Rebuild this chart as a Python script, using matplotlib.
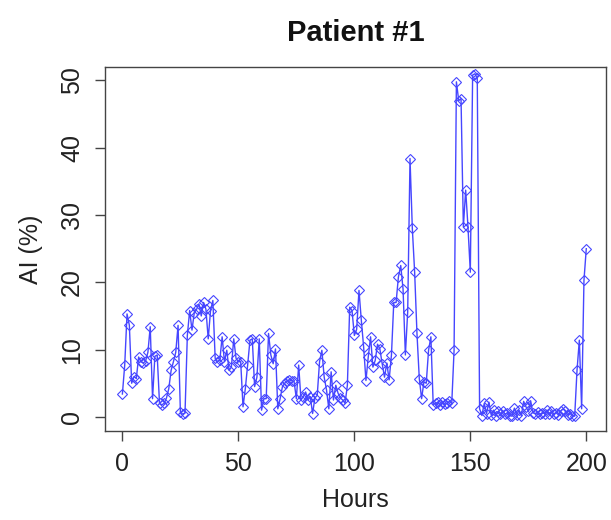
import matplotlib
matplotlib.use("Agg")
import matplotlib.pyplot as plt

plt.rcParams['font.family'] = ['Liberation Sans', 'DejaVu Sans']

hours = list(range(0, 201))
ai = [
    3.4, 7.7, 15.3, 13.6, 5.0, 6.0, 5.7, 8.9, 8.2, 8.0,      # 0-9
    8.3, 9.6, 13.4, 2.7, 9.0, 9.2, 2.0, 1.8, 2.0, 2.8,       # 10-19
    4.2, 6.9, 8.2, 9.6, 13.6, 0.7, 0.4, 0.6, 12.1, 15.8,     # 20-29
    12.9, 15.5, 16.0, 16.8, 15.0, 17.0, 16.0, 11.6, 15.8, 17.3,  # 30-39
    8.7, 8.2, 8.4, 11.9, 8.2, 9.9, 6.9, 7.4, 11.6, 8.7,      # 40-49
    8.2, 8.2, 1.5, 4.2, 7.7, 11.4, 11.6, 4.5, 5.9, 11.6,     # 50-59
    1.0, 2.7, 2.7, 12.4, 9.2, 7.9, 10.1, 1.2, 2.7, 4.5,      # 60-69
    5.0, 5.4, 5.5, 5.4, 5.3, 2.7, 7.7, 2.5, 3.0, 3.7,        # 70-79
    2.5, 3.0, 0.5, 2.8, 3.2, 8.2, 9.9, 5.9, 4.0, 1.2,        # 80-89
    6.7, 2.5, 4.7, 3.5, 2.8, 2.5, 2.0, 4.7, 16.3, 15.8,      # 90-99
    12.1, 13.0, 18.8, 14.4, 10.4, 5.4, 8.9, 11.9, 7.4, 8.4,  # 100-109
    10.8, 10.1, 7.9, 5.9, 8.0, 5.5, 9.2, 17.0, 17.0, 20.8,   # 110-119
    22.5, 19.0, 9.2, 15.6, 38.4, 28.0, 21.5, 12.4, 5.7, 2.7, # 120-129
    5.2, 5.0, 9.9, 11.9, 1.8, 2.0, 2.2, 1.8, 2.2, 1.9,       # 130-139
    2.0, 2.3, 2.0, 9.9, 49.8, 47.0, 47.3, 28.2, 33.7, 28.2,  # 140-149
    21.5, 50.8, 51.0, 50.3, 1.2, 0.2, 2.0, 0.5, 2.2, 0.3,    # 150-159
    1.0, 0.2, 0.8, 0.5, 0.9, 0.4, 0.6, 0.2, 0.1, 1.3,        # 160-169
    0.3, 1.0, 0.2, 2.3, 1.5, 0.8, 2.4, 0.6, 0.5, 0.7,        # 170-179
    0.4, 0.6, 0.5, 1.0, 0.5, 0.8, 0.4, 0.6, 0.3, 0.9,        # 180-189
    1.2, 0.8, 0.3, 0.5, 0.2, 0.1, 6.9, 11.4, 1.2, 20.3,      # 190-199
    25.0,                                                    # 200
]

x_ticks = [0, 50, 100, 150, 200]
y_ticks = [0, 10, 20, 30, 40, 50]

fig = plt.figure(figsize=(6.11, 5.2), dpi=100)
ax = fig.add_axes([105 / 611, 1 - 431 / 520, 501 / 611, (431 - 67) / 520])

ax.plot(hours, ai, color='#4646ff', linewidth=1.0,
        marker='D', markersize=5, markerfacecolor='none',
        markeredgecolor='#4646ff', markeredgewidth=0.8)

ax.set_xlim(-7.5, 208.5)
ax.set_ylim(-2.1, 52.0)
ax.set_xticks(x_ticks)
ax.set_yticks(y_ticks)
ax.set_yticklabels([str(v) for v in y_ticks], rotation=90, va='center')

for s in ax.spines.values():
    s.set_color('#444444')
    s.set_linewidth(1.0)
ax.tick_params(axis='both', direction='out', length=7, width=1,
               color='#444444', labelsize=18, labelcolor='#222222')
ax.tick_params(axis='x', pad=8)
ax.tick_params(axis='y', pad=8)

ax.set_xlabel('Hours', fontsize=18, color='#222222', labelpad=9)
ax.set_ylabel('AI (%)', fontsize=18, color='#222222', labelpad=12)
ax.set_title('Patient #1', fontsize=21, fontweight='bold', color='#111111', pad=19)

fig.savefig('out.png', dpi=100)
